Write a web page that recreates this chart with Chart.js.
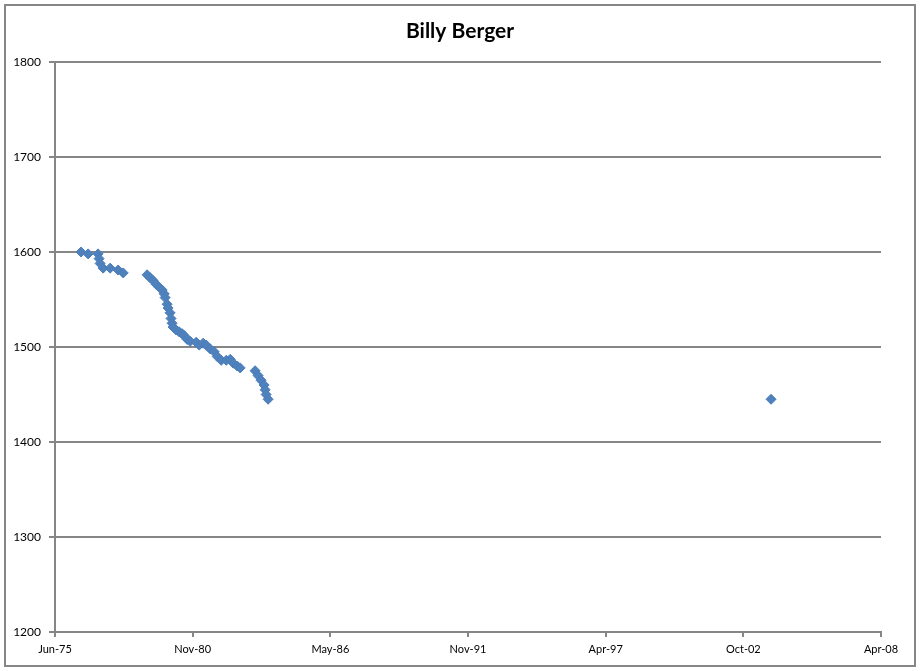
<!DOCTYPE html>
<html lang="en">
  <head>
    <meta charset="UTF-8" />
    <title>Billy Berger</title>
    <script src="https://cdn.jsdelivr.net/npm/chart.js@4.4.0/dist/chart.umd.min.js"></script>
    <style>
      body { margin: 0; background: #fff; }
      #wrap { width: 920px; height: 671px; position: relative; }
    </style>
  </head>
  <body>
  <div id="wrap"><canvas id="ratingChart" width="920" height="671"></canvas></div>

  <script>
    // rating history: date of each rating list and the rating on it
    const ratingDates = [
      '1976-06-18', '1976-09-28', '1977-02-20', '1977-03-07', '1977-03-21', '1977-05-04',
      '1977-08-14', '1977-12-08', '1978-02-20',
      '1979-02-02', '1979-03-17', '1979-04-30', '1979-06-13', '1979-07-27', '1979-09-09',
      '1979-10-08', '1979-10-22', '1979-11-20', '1979-12-04', '1980-01-02', '1980-01-16',
      '1980-01-31', '1980-02-14', '1980-03-29', '1980-05-12', '1980-06-25', '1980-07-24',
      '1980-09-06', '1980-10-20',
      '1981-01-15', '1981-02-28', '1981-04-27', '1981-06-10', '1981-08-07', '1981-10-04',
      '1981-11-17', '1982-01-14', '1982-03-28', '1982-05-25', '1982-07-08', '1982-09-03',
      '1982-10-16',
      '1983-05-21', '1983-07-03', '1983-08-16', '1983-09-29', '1983-10-14', '1983-10-28',
      '1983-11-26',
      '2003-11-28'
    ];
    const ratings = [
      1600, 1598, 1598, 1593, 1588, 1583,
      1583, 1581, 1578,
      1576, 1573, 1570, 1566, 1563, 1560,
      1556, 1552, 1545, 1541, 1536, 1530,
      1525, 1521, 1518, 1516, 1514, 1512,
      1508, 1506,
      1505, 1502, 1504, 1502, 1498, 1495,
      1490, 1486, 1486, 1487, 1483, 1480,
      1478,
      1475, 1470, 1465, 1460, 1455, 1450,
      1445,
      1445
    ];

    const chartTitle = 'Billy Berger';

    // x axis is in Excel date serials, one tick every 2000 days
    const xTickValues = [27550, 29550, 31550, 33550, 35550, 37550, 39550];
    const xTickLabels = ['Jun-75', 'Nov-80', 'May-86', 'Nov-91', 'Apr-97', 'Oct-02', 'Apr-08'];
    const yTickValues = [1200, 1300, 1400, 1500, 1600, 1700, 1800];

    function toSerial(s) {
      const p = s.split('-').map(Number);
      return (Date.UTC(p[0], p[1] - 1, p[2]) - Date.UTC(1899, 11, 30)) / 86400000;
    }

    const points = ratingDates.map((d, i) => ({ x: toSerial(d), y: ratings[i] }));

    const gray = '#868686';

    // white background, outer frame, and the title centred on the whole frame
    const frame = {
      id: 'frame',
      beforeDraw(chart) {
        const c = chart.ctx;
        c.save();
        c.fillStyle = '#fff';
        c.fillRect(0, 0, chart.width, chart.height);
        c.strokeStyle = gray;
        c.lineWidth = 2;
        c.strokeRect(5, 5, chart.width - 10, chart.height - 10);
        c.fillStyle = '#000';
        c.font = 'bold 21px Lato';
        c.textAlign = 'center';
        c.textBaseline = 'middle';
        c.fillText(chartTitle, chart.width / 2, 31);
        c.restore();
      }
    };

    const ctx = document.getElementById('ratingChart').getContext('2d');
    const myChart = new Chart(ctx, {
      type: 'scatter',
      data: {
        datasets: [{
          label: 'Rating',
          data: points,
          pointStyle: 'rectRot',
          radius: 5,
          hoverRadius: 5,
          backgroundColor: '#4F81BD',
          borderColor: '#4A7EBB',
          borderWidth: 1
        }]
      },
      plugins: [frame],
      options: {
        responsive: false,
        animation: false,
        layout: { padding: { top: 62, left: 0, right: 39, bottom: 0 } },
        plugins: {
          legend: { display: false },
          tooltip: { enabled: false },
          title: { display: false }
        },
        scales: {
          x: {
            type: 'linear',
            min: xTickValues[0],
            max: xTickValues[xTickValues.length - 1],
            afterBuildTicks: s => { s.ticks = xTickValues.map(v => ({ value: v })); },
            afterFit: s => { s.height = 39; },
            ticks: {
              color: '#000',
              font: { family: 'Lato', size: 11 },
              padding: 6,
              maxRotation: 0,
              autoSkip: false,
              callback: (v, i) => xTickLabels[i]
            },
            grid: { drawOnChartArea: false, color: gray, lineWidth: 2, tickLength: 5 },
            border: { color: gray, width: 2 }
          },
          y: {
            min: 1200,
            max: 1800,
            afterBuildTicks: s => { s.ticks = yTickValues.map(v => ({ value: v })); },
            afterFit: s => { s.width = 55; },
            ticks: {
              color: '#000',
              font: { family: 'Lato', size: 12 },
              padding: 8,
              callback: v => v
            },
            grid: { color: gray, lineWidth: 2, tickLength: 6 },
            border: { color: gray, width: 2 }
          }
        }
      }
    });
  </script>
  </body>
</html>
